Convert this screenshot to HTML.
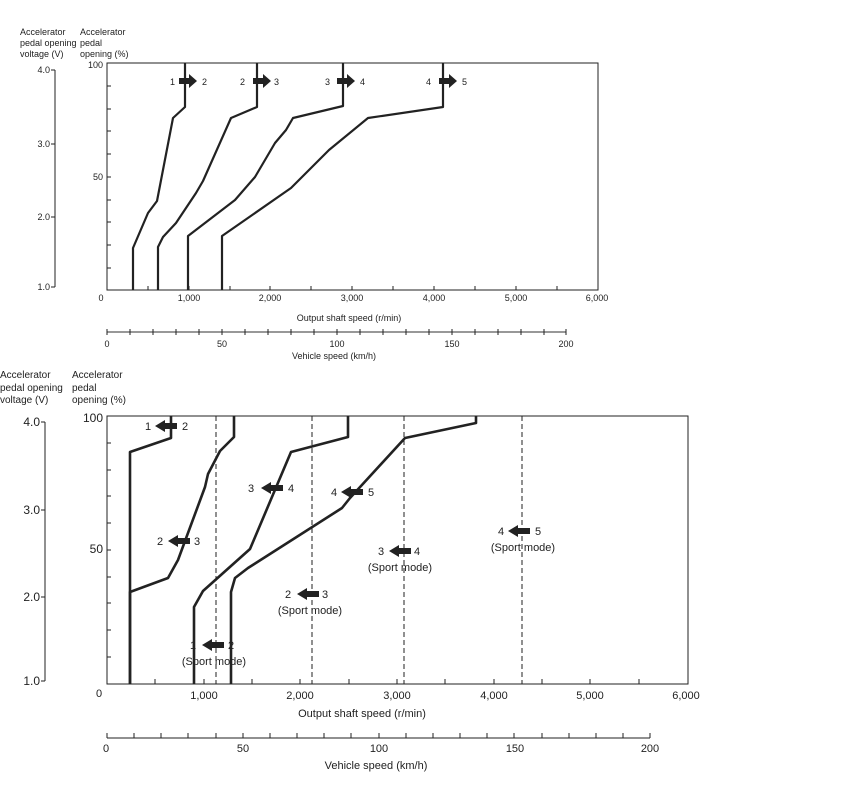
<!DOCTYPE html>
<html><head><style>body{margin:0;background:#fff}svg{display:block;font-family:"Liberation Sans",sans-serif}</style></head><body>
<svg width="858" height="800" viewBox="0 0 858 800" xmlns="http://www.w3.org/2000/svg">
<g fill="#222" font-size="9">
<text x="20" y="35">Accelerator</text><text x="20" y="46">pedal opening</text><text x="20" y="57">voltage (V)</text>
<text x="80" y="35">Accelerator</text><text x="80" y="46">pedal</text><text x="80" y="57">opening (%)</text>
</g>
<g stroke="#222" stroke-width="1" fill="none">
<rect x="107" y="63" width="491" height="227"/>
<path d="M55 70V287M51 70H55M51 144H55M51 217H55M51 287H55"/>
<path d="M107 86h4M107 109h4M107 131h4M107 154h4M107 177h4M107 200h4M107 222h4M107 245h4M107 268h4"/>
<path d="M148 290v-4M189 290v-4M230 290v-4M270 290v-4M311 290v-4M352 290v-4M393 290v-4M434 290v-4M475 290v-4M516 290v-4M557 290v-4"/>
<path d="M107 332H566" stroke="#777" stroke-width="1.5"/>
<path d="M107 329v6M130 329v6M153 329v6M176 329v6M199 329v6M222 329v6M245 329v6M268 329v6M291 329v6M314 329v6M337 329v6M360 329v6M383 329v6M406 329v6M429 329v6M452 329v6M475 329v6M498 329v6M521 329v6M544 329v6M566 329v6"/>
</g>
<g fill="#222" font-size="9">
<text x="50" y="73" text-anchor="end">4.0</text><text x="50" y="147" text-anchor="end">3.0</text><text x="50" y="220" text-anchor="end">2.0</text><text x="50" y="290" text-anchor="end">1.0</text>
<text x="103" y="68" text-anchor="end">100</text><text x="103" y="180" text-anchor="end">50</text>
<g text-anchor="middle"><text x="101" y="301">0</text><text x="189" y="301">1,000</text><text x="270" y="301">2,000</text><text x="352" y="301">3,000</text><text x="434" y="301">4,000</text><text x="516" y="301">5,000</text><text x="597" y="301">6,000</text>
<text x="349" y="321">Output shaft speed (r/min)</text>
<text x="107" y="347">0</text><text x="222" y="347">50</text><text x="337" y="347">100</text><text x="452" y="347">150</text><text x="566" y="347">200</text>
<text x="334" y="359">Vehicle speed (km/h)</text></g>
</g>
<g stroke="#222" stroke-width="2.2" fill="none" stroke-linejoin="round">
<polyline points="133,290 133,248 148,213 157,201 173,118 185,107 185,63"/>
<polyline points="158,290 158,247 163,237 176,223 196,193 203,181 231,118 257,107 257,63"/>
<polyline points="188,290 188,236 235,200 255,177 275,143 286,130 293,118 343,106 343,63"/>
<polyline points="222,290 222,236 291,188 329,150 368,118 443,107 443,63"/>
</g>
<g fill="#222" font-size="9">
<text x="170" y="85">1</text><text x="202" y="85">2</text><text x="240" y="85">2</text><text x="274" y="85">3</text>
<text x="325" y="85">3</text><text x="360" y="85">4</text><text x="426" y="85">4</text><text x="462" y="85">5</text>
<path d="M179 78h10v-4l8 7-8 7v-4h-10z"/><path d="M253 78h10v-4l8 7-8 7v-4h-10z"/><path d="M337 78h10v-4l8 7-8 7v-4h-10z"/><path d="M439 78h10v-4l8 7-8 7v-4h-10z"/>
</g>

<g fill="#222" font-size="10">
<text x="0" y="378">Accelerator</text><text x="0" y="391">pedal opening</text><text x="0" y="403">voltage (V)</text>
<text x="72" y="378">Accelerator</text><text x="72" y="391">pedal</text><text x="72" y="403">opening (%)</text>
</g>
<g stroke="#222" stroke-width="1" fill="none">
<rect x="107" y="416" width="581" height="268"/>
<path d="M45 422V681M41 422H45M41 510H45M41 597H45M41 681H45"/>
<path d="M107 443h4M107 470h4M107 496h4M107 523h4M107 550h4M107 577h4M107 603h4M107 630h4M107 657h4"/>
<path d="M155 684v-5M204 684v-5M252 684v-5M300 684v-5M349 684v-5M397 684v-5M445 684v-5M494 684v-5M542 684v-5M590 684v-5M639 684v-5"/>
<path d="M107 738H650"/>
<path d="M107 733v5M134 733v5M161 733v5M188 733v5M216 733v5M243 733v5M270 733v5M297 733v5M324 733v5M351 733v5M379 733v5M406 733v5M433 733v5M460 733v5M487 733v5M514 733v5M542 733v5M569 733v5M596 733v5M623 733v5M650 733v5"/>
<path d="M216 416V684M312 416V684M404 416V684M522 416V684" stroke-dasharray="5,3"/>
</g>
<g fill="#222" font-size="12">
<text x="40" y="426" text-anchor="end">4.0</text><text x="40" y="514" text-anchor="end">3.0</text><text x="40" y="601" text-anchor="end">2.0</text><text x="40" y="685" text-anchor="end">1.0</text>
<text x="103" y="422" text-anchor="end">100</text><text x="103" y="553" text-anchor="end">50</text>
<g text-anchor="middle" font-size="11"><text x="99" y="697">0</text><text x="204" y="699">1,000</text><text x="300" y="699">2,000</text><text x="397" y="699">3,000</text><text x="494" y="699">4,000</text><text x="590" y="699">5,000</text><text x="686" y="699">6,000</text>
<text x="362" y="717">Output shaft speed (r/min)</text>
<text x="106" y="752">0</text><text x="243" y="752">50</text><text x="379" y="752">100</text><text x="515" y="752">150</text><text x="650" y="752">200</text>
<text x="376" y="769">Vehicle speed (km/h)</text></g>
</g>
<g stroke="#222" stroke-width="2.6" fill="none" stroke-linejoin="round">
<polyline points="130,684 130,452 171,438 171,416"/>
<polyline points="130,684 130,592 168,578 178,560 205,487 208,474 220,451 234,437 234,416"/>
<polyline points="194,684 194,607 203,591 250,549 291,452 348,437 348,416"/>
<polyline points="231,684 231,592 235,578 248,568 342,508 350,498 405,438 476,423 476,416"/>
</g>
<g fill="#222" font-size="11">
<g id="a"></g>
<text x="145" y="430">1</text><text x="182" y="430">2</text><path d="M155 426l10-6v3h12v6h-12v3z"/>
<text x="157" y="545">2</text><text x="194" y="545">3</text><path d="M168 541l10-6v3h12v6h-12v3z"/>
<text x="248" y="492">3</text><text x="288" y="492">4</text><path d="M261 488l10-6v3h12v6h-12v3z"/>
<text x="331" y="496">4</text><text x="368" y="496">5</text><path d="M341 492l10-6v3h12v6h-12v3z"/>
<text x="190" y="649">1</text><text x="228" y="649">2</text><path d="M202 645l10-6v3h12v6h-12v3z"/>
<text x="285" y="598">2</text><text x="322" y="598">3</text><path d="M297 594l10-6v3h12v6h-12v3z"/>
<text x="378" y="555">3</text><text x="414" y="555">4</text><path d="M389 551l10-6v3h12v6h-12v3z"/>
<text x="498" y="535">4</text><text x="535" y="535">5</text><path d="M508 531l10-6v3h12v6h-12v3z"/>
<g text-anchor="middle"><text x="214" y="665">(Sport mode)</text><text x="310" y="614">(Sport mode)</text><text x="400" y="571">(Sport mode)</text><text x="523" y="551">(Sport mode)</text></g>
</g>
</svg>
</body></html>
